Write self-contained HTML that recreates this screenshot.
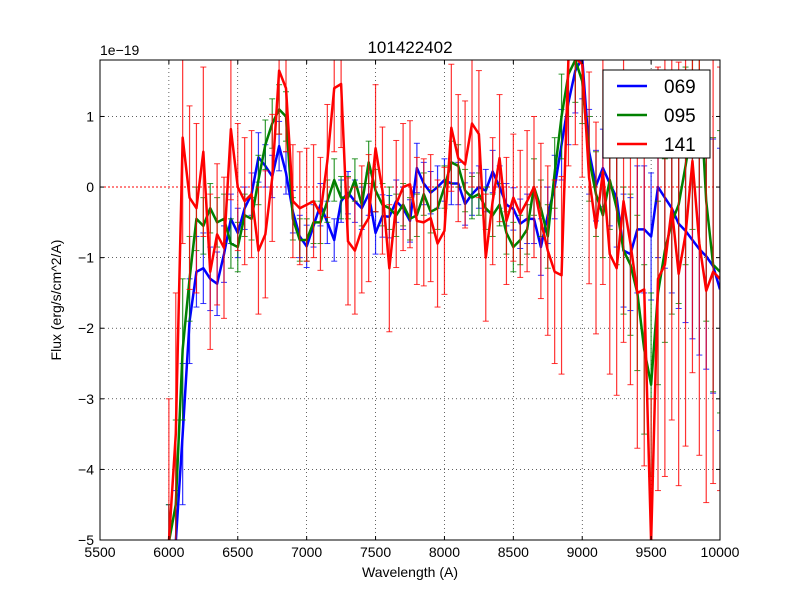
<!DOCTYPE html>
<html><head><meta charset="utf-8"><style>
html,body{margin:0;padding:0;background:#fff;overflow:hidden;width:800px;height:600px;}
svg{display:block;overflow:hidden;font-family:"Liberation Sans","DejaVu Sans",sans-serif;}
</style></head><body>
<svg id="chart" width="800" height="600" xmlns="http://www.w3.org/2000/svg">
<defs><clipPath id="clip"><rect x="100" y="60" width="620" height="480"/></clipPath></defs>
<rect width="800" height="600" fill="#fff"/>
<text x="410" y="53" text-anchor="middle" font-size="17">101422402</text>
<text x="100" y="55" font-size="14">1e−19</text>
<text x="410" y="577" text-anchor="middle" font-size="14">Wavelength (A)</text>
<text x="61" y="300" text-anchor="middle" font-size="14" transform="rotate(-90 61 300)">Flux (erg/s/cm^2/A)</text>
<g id="grid"></g>
<g id="marks" clip-path="url(#clip)"></g>
<rect x="100" y="60" width="620" height="480" fill="none" stroke="#000" stroke-width="1"/>
<g id="ticks"></g>
<g>
<rect x="603" y="70" width="107" height="88" fill="#fff" stroke="#000" stroke-width="1"/>
<g><line x1="617" y1="86" x2="647" y2="86" stroke="#0000ff" stroke-width="2.5"/><text x="664" y="93" font-size="19">069</text></g>
<g><line x1="617" y1="115" x2="647" y2="115" stroke="#008000" stroke-width="2.5"/><text x="664" y="122" font-size="19">095</text></g>
<g><line x1="617" y1="144" x2="647" y2="144" stroke="#ff0000" stroke-width="2.5"/><text x="664" y="151" font-size="19">141</text></g>
</g>
</svg>
<script>
const xTicks=[5500,6000,6500,7000,7500,8000,8500,9000,9500,10000];
const yTicks=[-5,-4,-3,-2,-1,0,1];
const wavelengths=[];for(let w=6000;w<=10000;w+=50)wavelengths.push(w);
const flux069=[-6,-5.5,-3.5,-1.9,-1.2,-1.15,-1.3,-1.37,-0.95,-0.45,
-0.65,-0.3,-0.1,0.42,0.3,0.15,0.58,0.2,-0.35,-0.7,
-0.84,-0.55,-0.25,-0.5,-0.75,-0.2,-0.08,-0.2,-0.3,-0.1,
-0.65,-0.41,-0.42,-0.2,-0.3,-0.48,0.27,0.05,-0.08,0,
0.1,0.05,0.05,-0.24,-0.1,0,-0.05,0.22,0,-0.25,
-0.31,-0.52,-0.45,-0.45,-0.85,-0.4,0,0.6,1.2,1.65,
1.85,0.5,0.02,0.27,0.05,-0.15,-0.9,-0.95,-0.6,-0.6,
-0.7,0,-0.15,-0.3,-0.52,-0.62,-0.75,-0.88,-0.98,-1.12,-1.45];
const flux095=[-6,-4.5,-2.3,-1.3,-0.45,-0.55,-0.3,-0.5,-0.45,-0.8,
-0.85,-0.4,-0.45,0.1,0.6,0.9,1.1,1.0,-0.45,-0.75,
-0.75,-0.5,-0.5,-0.2,0.1,-0.15,-0.15,0.1,-0.25,0.35,
-0.05,-0.25,-0.3,-0.4,-0.25,-0.45,-0.4,-0.1,-0.35,-0.3,
0,0.35,0.3,-0.05,-0.15,-0.1,-0.3,-0.4,-0.25,-0.65,
-0.85,-0.75,-0.6,0,-0.3,-0.7,0.2,1.0,1.6,1.8,
1.5,0.4,-0.1,-0.4,0.1,-0.3,-0.9,-1.1,-1.5,-2.3,
-2.8,-1.5,-0.9,-0.5,-0.25,0.3,0.9,1.6,-0.2,-1.1,-1.2];
const flux141=[-5.5,-3.5,0.7,-0.15,-0.3,0.5,-1.2,-0.67,-0.86,0.82,
0,-0.2,-0.1,-0.9,-0.67,0.13,1.65,1.4,-0.2,-0.3,
-0.25,-0.2,-0.38,0.37,1.4,1.46,-0.77,-0.9,-0.6,-0.44,
0.55,-0.05,-1.15,-0.24,0,0.04,-0.48,-0.5,-0.44,-0.8,
-0.62,0.84,0.41,0.32,0.9,0.75,-1.0,-0.2,0.41,-0.48,
-0.15,-0.38,-0.2,0,-0.48,-0.9,-1.2,-1.25,1.9,2.2,
1.74,0.13,-0.58,0.22,-0.95,-1.15,-0.2,-0.8,-1.5,-1.45,
-6,-1.3,-1.1,-0.3,-1.23,-0.67,0.37,-0.8,-1.47,-1.2,-1.3];
const err069=[1.5,1.2,1,0.6,0.5,0.5,0.45,0.45,0.4,0.35,
0.35,0.3,0.3,0.35,0.3,0.3,0.35,0.3,0.3,0.3,
0.3,0.3,0.3,0.3,0.3,0.3,0.3,0.3,0.3,0.3,
0.3,0.3,0.3,0.3,0.3,0.3,0.35,0.3,0.3,0.3,
0.3,0.3,0.3,0.3,0.3,0.3,0.3,0.3,0.3,0.3,
0.3,0.35,0.35,0.35,0.4,0.4,0.45,0.5,0.6,0.6,
0.6,0.6,0.5,0.55,0.6,0.7,0.8,0.8,0.9,0.9,
0.9,1,1,1.2,1.2,1.3,1.4,1.5,1.6,1.8,2];
const err095=[1.5,1.2,1,0.6,0.45,0.4,0.35,0.35,0.35,0.35,
0.35,0.3,0.3,0.35,0.35,0.35,0.35,0.35,0.3,0.3,
0.3,0.3,0.3,0.3,0.3,0.3,0.3,0.3,0.3,0.3,
0.3,0.3,0.3,0.3,0.3,0.3,0.3,0.3,0.3,0.3,
0.3,0.3,0.3,0.3,0.3,0.3,0.3,0.3,0.3,0.3,
0.35,0.35,0.35,0.4,0.4,0.45,0.5,0.6,0.6,0.6,
0.6,0.6,0.6,0.6,0.7,0.8,0.9,1,1.1,1.2,
1.3,1.3,1.3,1.3,1.4,1.4,1.5,1.6,1.7,1.8,2];
const err141=[2.5,2,1.5,1.3,1.2,1.2,1.1,1,1,1,
0.9,0.9,0.9,0.9,0.9,0.9,0.9,0.9,0.8,0.8,
0.8,0.8,0.8,0.8,0.9,0.9,0.9,0.9,0.9,0.9,
0.9,0.9,0.9,0.9,0.9,0.9,0.9,0.9,0.9,0.9,
0.9,0.9,0.9,0.9,0.9,0.9,0.9,0.9,0.9,0.9,
0.9,0.9,1,1,1.1,1.2,1.3,1.4,1.6,1.6,
1.6,1.5,1.5,1.6,1.7,1.8,2,2,2.2,2.5,
3,3,3,3,3,3,3,3,3,3,3];
const X=v=>100+(v-5500)*620/4500;
const Yraw=v=>540-(v+5)*480/6.8;
const Y=v=>Math.max(58,Math.min(542,Yraw(v)));
const NS="http://www.w3.org/2000/svg";
function mk(tag,attrs,parent){const e=document.createElementNS(NS,tag);for(const k in attrs)e.setAttribute(k,attrs[k]);parent.appendChild(e);return e;}
const grid=document.getElementById('grid'),ticks=document.getElementById('ticks'),marks=document.getElementById('marks');
xTicks.forEach(t=>{const x=X(t);
 if(t>5500&&t<10000){const g=mk('line',{x1:x,x2:x,y1:60,y2:540,stroke:'#000','stroke-width':0.6,'stroke-dasharray':'1,3'},grid);
 
 }
 mk('line',{x1:x,x2:x,y1:540,y2:536,stroke:'#000'},ticks);mk('line',{x1:x,x2:x,y1:60,y2:64,stroke:'#000'},ticks);
 const l=mk('text',{x:x,y:557,'text-anchor':'middle','font-size':14},ticks);l.textContent=t;
 
 });
yTicks.forEach(t=>{const y=Yraw(t);
 if(t>-5){const g=mk('line',{x1:100,x2:720,y1:y,y2:y,stroke:'#000','stroke-width':0.6,'stroke-dasharray':'1,3'},grid);
 
 }
 mk('line',{x1:100,x2:104,y1:y,y2:y,stroke:'#000'},ticks);mk('line',{x1:716,x2:720,y1:y,y2:y,stroke:'#000'},ticks);
 const l=mk('text',{x:94,y:y+5,'text-anchor':'end','font-size':14},ticks);l.textContent=(t<0?'−'+(-t):t);
 
 });
const zl=mk('line',{x1:100,x2:720,y1:Yraw(0),y2:Yraw(0),stroke:'#ff0000','stroke-width':1,'stroke-dasharray':'2,2'},marks);


function series(vals,errs,color,name){
 const g=mk('g',{},marks);
 
 
 vals.forEach((v,i)=>{const x=X(wavelengths[i]),y1=Y(v-errs[i]),y2=Y(v+errs[i]);
  mk('line',{x1:x,x2:x,y1:y1,y2:y2,stroke:color,'stroke-width':1.2,opacity:0.8},g);
  mk('line',{x1:x-3,x2:x+3,y1:y1,y2:y1,stroke:color,'stroke-width':1,opacity:0.8},g);
  mk('line',{x1:x-3,x2:x+3,y1:y2,y2:y2,stroke:color,'stroke-width':1,opacity:0.8},g);});
 const p=mk('polyline',{points:vals.map((v,i)=>X(wavelengths[i])+','+Y(v)).join(' '),fill:'none',stroke:color,'stroke-width':2.5,'stroke-linejoin':'round'},g);
 
 
}
series(flux069,err069,'#0000ff','069');
series(flux095,err095,'#008000','095');
series(flux141,err141,'#ff0000','141');
</script>
</body></html>
